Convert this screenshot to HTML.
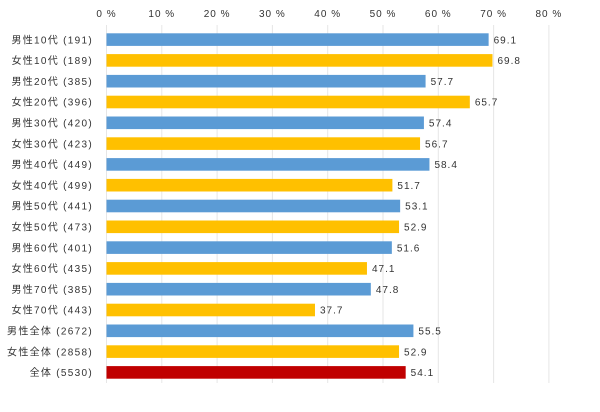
<!DOCTYPE html>
<html><head><meta charset="utf-8"><style>
body{margin:0;background:#fff}
svg text{font-family:"Liberation Sans","Noto Sans CJK JP",sans-serif;font-size:10px;fill:#333;letter-spacing:1px}
svg text.l{letter-spacing:1.3px}
</style></head><body>
<svg width="600" height="407" xmlns="http://www.w3.org/2000/svg">
<g stroke="#e6e6e6" stroke-width="1">
<line x1="106.5" y1="25" x2="106.5" y2="383"/><line x1="161.8" y1="25" x2="161.8" y2="383"/><line x1="217.1" y1="25" x2="217.1" y2="383"/><line x1="272.4" y1="25" x2="272.4" y2="383"/><line x1="327.7" y1="25" x2="327.7" y2="383"/><line x1="383" y1="25" x2="383" y2="383"/><line x1="438.3" y1="25" x2="438.3" y2="383"/><line x1="493.6" y1="25" x2="493.6" y2="383"/><line x1="548.9" y1="25" x2="548.9" y2="383"/>
</g>
<g text-anchor="middle">
<text x="106.5" y="17">0 %</text><text x="161.8" y="17">10 %</text><text x="217.1" y="17">20 %</text><text x="272.4" y="17">30 %</text><text x="327.7" y="17">40 %</text><text x="383" y="17">50 %</text><text x="438.3" y="17">60 %</text><text x="493.6" y="17">70 %</text><text x="548.9" y="17">80 %</text>
</g>
<g id="bars"></g>
</svg>
<script>
var d=[["男性10代（191）",69.1,"#5b9bd5"],["女性10代（189）",69.8,"#ffc000"],["男性20代（385）",57.7,"#5b9bd5"],["女性20代（396）",65.7,"#ffc000"],["男性30代（420）",57.4,"#5b9bd5"],["女性30代（423）",56.7,"#ffc000"],["男性40代（449）",58.4,"#5b9bd5"],["女性40代（499）",51.7,"#ffc000"],["男性50代（441）",53.1,"#5b9bd5"],["女性50代（473）",52.9,"#ffc000"],["男性60代（401）",51.6,"#5b9bd5"],["女性60代（435）",47.1,"#ffc000"],["男性70代（385）",47.8,"#5b9bd5"],["女性70代（443）",37.7,"#ffc000"],["男性全体（2672）",55.5,"#5b9bd5"],["女性全体（2858）",52.9,"#ffc000"],["全体（5530）",54.1,"#c00000"]];
var g=document.getElementById("bars"),s="";
d.forEach(function(r,i){var y=33.3+i*20.8,w=r[1]*5.53;
s+='<rect x="106.5" y="'+y+'" width="'+w+'" height="12.6" fill="'+r[2]+'"/>';
s+='<text class="l" x="93" y="'+(y+10)+'" text-anchor="end">'+r[0].replace('（',' (').replace('）',')')+'</text>';
s+='<text x="'+(106.5+w+5)+'" y="'+(y+10)+'">'+r[1].toFixed(1)+'</text>';});
g.innerHTML=s;
</script>
</body></html>
